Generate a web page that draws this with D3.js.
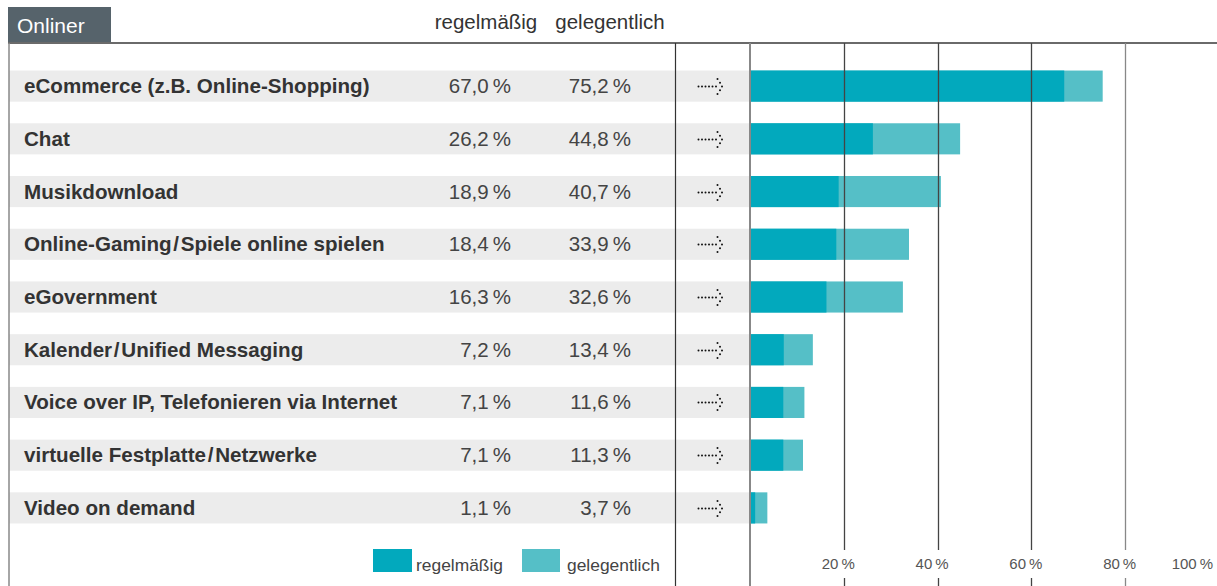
<!DOCTYPE html>
<html>
<head>
<meta charset="utf-8">
<script src="https://cdn.jsdelivr.net/npm/d3@7/dist/d3.min.js"></script>
<style>
  html, body { margin: 0; padding: 0; background: #fff; }
  svg { display: block; font-family: "Liberation Sans", Arial, Helvetica, sans-serif; }
</style>
</head>
<body>
<svg id="chart" width="1217" height="586"></svg>
<script>
// Onliner: Nutzung von Online-Diensten
const categories = [
  "eCommerce (z.B. Online-Shopping)",
  "Chat",
  "Musikdownload",
  "Online-Gaming\u200A/\u200ASpiele online spielen",
  "eGovernment",
  "Kalender\u200A/\u200AUnified Messaging",
  "Voice over IP, Telefonieren via Internet",
  "virtuelle Festplatte\u200A/\u200ANetzwerke",
  "Video on demand"
];
const regelmaessig = [67.0, 26.2, 18.9, 18.4, 16.3, 7.2, 7.1, 7.1, 1.1];
const gelegentlich = [75.2, 44.8, 40.7, 33.9, 32.6, 13.4, 11.6, 11.3, 3.7];
const seriesNames = ["regelmäßig", "gelegentlich"];
const tickValues = [20, 40, 60, 80, 100];
const title = "Onliner";

const colRegular = "#02a9bd";
const colOccasional = "#55bfc7";

const svg = d3.select("#chart");
const W = 1217, H = 586;

const x = d3.scaleLinear().domain([0, 100]).range([750, 1219]);
const y = d3.scaleBand().domain(d3.range(categories.length)).range([60, 534]).paddingInner(0.41).paddingOuter(0.2);

const fmt = v => d3.format(".1f")(v).replace(".", ",") + "\u2009%";

// Header tab
svg.append("rect").attr("x", 8).attr("y", 7).attr("width", 103).attr("height", 36).attr("fill", "#56636b");
svg.append("text").attr("x", 17).attr("y", 33).attr("fill", "#fff")
  .attr("font-size", 21).text(title);

// Column headers
svg.append("text").attr("x", 486).attr("y", 29).attr("text-anchor", "middle")
  .attr("font-size", 20.5).attr("fill", "#333").text(seriesNames[0]);
svg.append("text").attr("x", 610).attr("y", 29).attr("text-anchor", "middle")
  .attr("font-size", 20.5).attr("fill", "#333").text(seriesNames[1]);

// Row bands
const rows = svg.append("g");
rows.selectAll("rect.band").data(categories).join("rect")
  .attr("class", "band")
  .attr("x", 9).attr("width", x(0) - 9)
  .attr("y", (d, i) => y(i)).attr("height", y.bandwidth())
  .attr("fill", "#ececec");

// Category labels
rows.selectAll("text.cat").data(categories).join("text")
  .attr("class", "cat")
  .attr("x", 24).attr("y", (d, i) => y(i) + y.bandwidth() / 2 + 7)
  .attr("font-size", 20.6).attr("font-weight", "bold").attr("fill", "#333")
  .text(d => d);

// Values
rows.selectAll("text.v1").data(regelmaessig).join("text")
  .attr("class", "v1")
  .attr("x", 511).attr("y", (d, i) => y(i) + y.bandwidth() / 2 + 7)
  .attr("text-anchor", "end").attr("font-size", 20.5).attr("fill", "#444")
  .text(fmt);
rows.selectAll("text.v2").data(gelegentlich).join("text")
  .attr("class", "v2")
  .attr("x", 631).attr("y", (d, i) => y(i) + y.bandwidth() / 2 + 7)
  .attr("text-anchor", "end").attr("font-size", 20.5).attr("fill", "#444")
  .text(fmt);

// Dotted arrows
const arrowDots = [[-13, 0], [-9.5, 0], [-6, 0], [-2.5, 0], [1, 0], [4.5, 0], [6, -7.5], [8.5, -3.8], [10.5, 0], [8.5, 3.8], [6, 7.5]];
categories.forEach((c, i) => {
  const cy = Math.round(y(i) + y.bandwidth() / 2) + 0.5;
  svg.append("g").attr("transform", `translate(711.5,${cy})`)
    .selectAll("circle").data(arrowDots).join("circle")
    .attr("cx", d => d[0]).attr("cy", d => d[1]).attr("r", 1).attr("fill", "#111");
});

// Bars: occasional (total) behind regular
const bars = svg.append("g");
bars.selectAll("rect.occ").data(gelegentlich).join("rect")
  .attr("class", "occ")
  .attr("x", x(0)).attr("y", (d, i) => y(i))
  .attr("width", d => x(d) - x(0)).attr("height", y.bandwidth())
  .attr("fill", colOccasional);
bars.selectAll("rect.reg").data(regelmaessig).join("rect")
  .attr("class", "reg")
  .attr("x", x(0)).attr("y", (d, i) => y(i))
  .attr("width", d => x(d) - x(0)).attr("height", y.bandwidth())
  .attr("fill", colRegular);

// Frame lines
svg.append("line").attr("x1", 8).attr("x2", W).attr("y1", 43).attr("y2", 43)
  .attr("stroke", "#6a6a6a").attr("stroke-width", 2);
svg.append("line").attr("x1", 9).attr("x2", 9).attr("y1", 43).attr("y2", H)
  .attr("stroke", "#888").attr("stroke-width", 1.5);
svg.append("line").attr("x1", 675.5).attr("x2", 675.5).attr("y1", 43).attr("y2", H)
  .attr("stroke", "#333").attr("stroke-width", 1.2);
svg.append("line").attr("x1", x(0)).attr("x2", x(0)).attr("y1", 43).attr("y2", H)
  .attr("stroke", "#888").attr("stroke-width", 2);

// Grid lines with tick labels
const grid = svg.append("g");
tickValues.forEach(t => {
  const gx = Math.round(x(t)) + 0.5;
  const stroke = t === 80 ? "#888" : "#444";
  grid.append("line").attr("x1", gx).attr("x2", gx).attr("y1", 43).attr("y2", 550)
    .attr("stroke", stroke).attr("stroke-width", 1.3);
  grid.append("line").attr("x1", gx).attr("x2", gx).attr("y1", 578).attr("y2", H)
    .attr("stroke", stroke).attr("stroke-width", 1.3);
  grid.append("text")
    .attr("x", Math.min(x(t) + 11, 1213)).attr("y", 569)
    .attr("text-anchor", "end").attr("font-size", 15).attr("fill", "#555")
    .text(t + "\u2009%");
});

// Legend
const legend = svg.append("g");
legend.append("rect").attr("x", 373).attr("y", 549).attr("width", 39).attr("height", 23).attr("fill", colRegular);
legend.append("text").attr("x", 416).attr("y", 571).attr("font-size", 17.4).attr("fill", "#444").text(seriesNames[0]);
legend.append("rect").attr("x", 522).attr("y", 549).attr("width", 38).attr("height", 23).attr("fill", colOccasional);
legend.append("text").attr("x", 567).attr("y", 571).attr("font-size", 17.4).attr("fill", "#444").text(seriesNames[1]);
</script>
</body>
</html>
